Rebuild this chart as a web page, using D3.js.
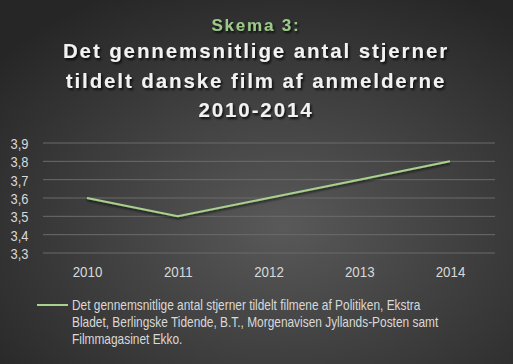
<!DOCTYPE html>
<html><head><meta charset="utf-8">
<script src="https://cdn.jsdelivr.net/npm/d3@7"></script>
<style>html,body{margin:0;padding:0;background:#333;}svg{display:block;}</style>
</head><body>
<script>
const years = ["2010","2011","2012","2013","2014"];
const values = [3.6, 3.5, 3.6, 3.7, 3.8];
const yTicks = [3.3, 3.4, 3.5, 3.6, 3.7, 3.8, 3.9];
const subtitle = "Skema 3:";
const titleLines = ["Det gennemsnitlige antal stjerner", "tildelt danske film af anmelderne", "2010-2014"];
const legendLines = ["Det gennemsnitlige antal stjerner tildelt filmene af Politiken, Ekstra",
  "Bladet, Berlingske Tidende, B.T., Morgenavisen Jyllands-Posten samt",
  "Filmmagasinet Ekko."];

const W = 513, H = 364;
const svg = d3.select("body").append("svg").attr("width", W).attr("height", H);
const defs = svg.append("defs");
const rg = defs.append("radialGradient").attr("id","bg").attr("cx","55%").attr("cy","62%").attr("r","72%");
rg.append("stop").attr("offset","0%").attr("stop-color","#595959");
rg.append("stop").attr("offset","100%").attr("stop-color","#262626");
const sh = defs.append("filter").attr("id","ts").attr("x","-10%").attr("y","-30%").attr("width","120%").attr("height","160%");
sh.append("feDropShadow").attr("dx",1.5).attr("dy",2).attr("stdDeviation",1.2).attr("flood-color","#000").attr("flood-opacity",0.8);
const lsh = defs.append("filter").attr("id","ls").attr("x","-5%").attr("y","-50%").attr("width","110%").attr("height","200%");
lsh.append("feDropShadow").attr("dx",0).attr("dy",2).attr("stdDeviation",1.2).attr("flood-color","#000").attr("flood-opacity",0.6);

svg.append("rect").attr("width",W).attr("height",H).attr("fill","url(#bg)");

const font = "'Liberation Sans', Arial, sans-serif";

svg.append("text").attr("x", 256).attr("y", 31).attr("text-anchor","middle")
  .attr("font-family", font).attr("font-weight","bold").attr("font-size",17)
  .attr("letter-spacing","1.8px").attr("fill","#9cc98a").attr("filter","url(#ts)").text(subtitle);

svg.selectAll("text.title").data(titleLines).enter().append("text").attr("class","title")
  .attr("x", 256).attr("y",(d,i)=>58 + i*29.5).attr("text-anchor","middle")
  .attr("font-family", font).attr("font-weight","bold").attr("font-size",20.5)
  .attr("letter-spacing","1.9px").attr("fill","#f2f2f2").attr("filter","url(#ts)").text(d=>d);

const x = d3.scalePoint().domain(years).range([87, 450]);
const y = d3.scaleLinear().domain([3.3, 3.9]).range([253, 143]);

const g = svg.append("g");
g.selectAll("line.grid").data(yTicks).enter().append("line")
  .attr("x1", 43).attr("x2", 495).attr("y1", d=>y(d)).attr("y2", d=>y(d))
  .attr("stroke","#6b6b6b").attr("stroke-width",1);

const yAxis = g.append("g").attr("transform","translate(28.5,0)")
  .call(d3.axisLeft(y).tickValues(yTicks).tickSize(0).tickPadding(0).tickFormat(d=>d3.format(".1f")(d).replace(".",",")));
yAxis.select(".domain").remove();
yAxis.selectAll("text").attr("font-family",font).attr("font-size",15).attr("fill","#d9d9d9").attr("dy","0.36em")
  .attr("transform","scale(0.86,1)");

const xAxis = g.append("g").attr("transform","translate(0,265.5)")
  .call(d3.axisBottom(x).tickSize(0).tickPadding(0));
xAxis.select(".domain").remove();
xAxis.selectAll("text").attr("font-family",font).attr("font-size",15.5).attr("fill","#d9d9d9").attr("dy","0.71em")
  .attr("transform","scale(0.86,1)");

g.append("path").datum(values).attr("fill","none").attr("stroke","#a9d18e").attr("stroke-width",2)
  .attr("filter","url(#ls)")
  .attr("d", d3.line().x((d,i)=>x(years[i])).y(d=>y(d)));

svg.append("line").attr("x1",37).attr("x2",68).attr("y1",305).attr("y2",305)
  .attr("stroke","#a9d18e").attr("stroke-width",2);
svg.selectAll("text.leg").data(legendLines).enter().append("text").attr("class","leg")
  .attr("transform",(d,i)=>`translate(72,${310 + i*17}) scale(0.85,1)`)
  .attr("font-family",font).attr("font-size",14).attr("fill","#d9d9d9").text(d=>d);
</script>
</body></html>
